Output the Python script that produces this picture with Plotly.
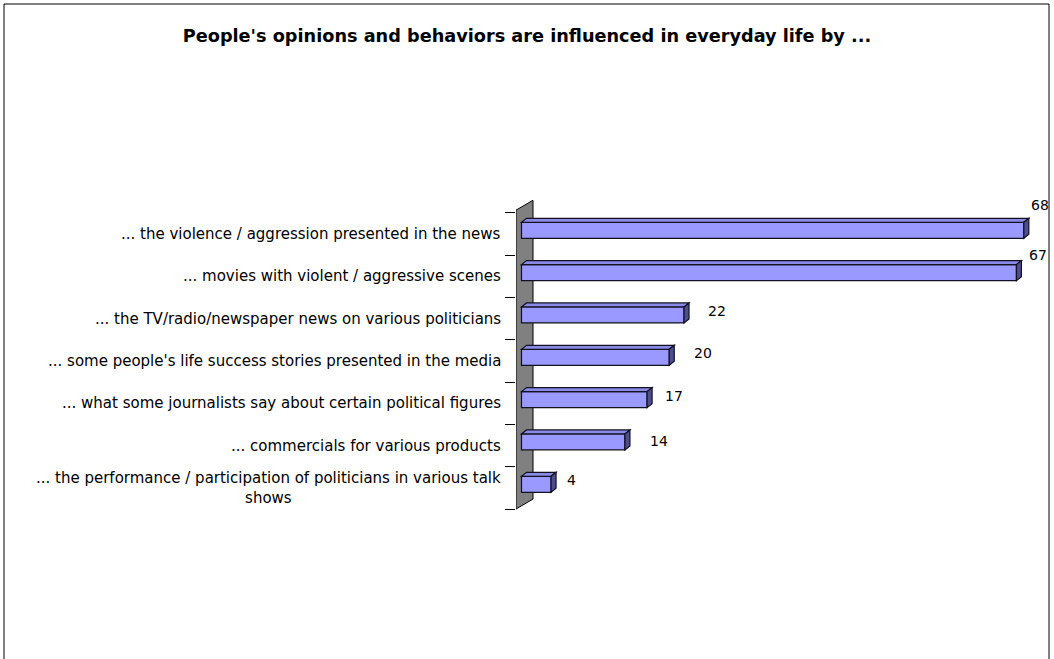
import plotly.graph_objects as go

# ---- data ----
categories = [
    "... the violence / aggression presented in the news",
    "... movies with violent / aggressive scenes",
    "... the TV/radio/newspaper news on various politicians",
    "... some people's life success stories presented in the media",
    "... what some journalists say about certain political figures",
    "... commercials for various products",
    "... the performance / participation of politicians in various talk<br>shows",
]
values = [68, 67, 22, 20, 17, 14, 4]
title_text = "People's opinions and behaviors are influenced in everyday life by ..."

# ---- label placement (styling, pixels) ----
label_dx = [5, 11, 22, 23, 16, 23, 14]
label_dy = [29, 21, 8, 8, 7, 5, 8]

# ---- geometry ----
W, H = 1054, 659
L, R, T, B = 516, 14, 180, 99
PW, PH = W - L - R, H - T - B
X0PIX = 521.5          # pixel where value 0 sits
KX = 7.387             # pixels per unit
BAND = 42.33           # pixels per category
C0 = 233.9             # pixel centre of first category
xr = [(L - X0PIX) / KX, (W - R - X0PIX) / KX]
yr = [(H - B - C0) / BAND, (T - C0) / BAND]   # reversed: bottom, top

bar_w = 16 / BAND
bar_off = -(bar_w / 2) - 3.6 / BAND
ddx, ddy = 5 / KX, 4 / BAND           # bar depth
wdx, wdy = 17 / KX, 10 / BAND         # wall depth

idx = list(range(len(categories)))

fig = go.Figure()
fig.add_trace(go.Bar(
    x=values, y=idx, orientation="h", width=bar_w, offset=bar_off,
    marker=dict(color="#9999FF", line=dict(color="#111122", width=1.2)),
    hoverinfo="skip", showlegend=False,
))

shapes = []
# wall (left side)
x_w0 = xr[0]
yw_top, yw_bot = -0.56, 6.5
shapes.append(dict(
    type="path", xref="x", yref="y", layer="below",
    path=f"M {x_w0},{yw_bot} L {x_w0},{yw_top} L {x_w0 + wdx},{yw_top - wdy} L {x_w0 + wdx},{yw_bot - wdy} Z",
    fillcolor="#808080", line=dict(color="black", width=1),
))
# 3D faces of bars
for i, v in zip(idx, values):
    yt = i + bar_off
    yb = yt + bar_w
    shapes.append(dict(
        type="path", xref="x", yref="y",
        path=f"M 0,{yt} L {v},{yt} L {v + ddx},{yt - ddy} L {ddx},{yt - ddy} Z",
        fillcolor="#8A8AE6", line=dict(color="#111122", width=1.2),
    ))
    shapes.append(dict(
        type="path", xref="x", yref="y",
        path=f"M {v},{yt} L {v + ddx},{yt - ddy} L {v + ddx},{yb - ddy} L {v},{yb} Z",
        fillcolor="#4D4D8F", line=dict(color="#111122", width=1.2),
    ))

# outer frame
def px(X):
    return (X - L) / PW

def py(Y):
    return 1 - (Y - T) / PH

shapes.append(dict(type="path", xref="paper", yref="paper",
                   path=f"M {px(4)},{py(700)} L {px(4)},{py(4)} L {px(1049)},{py(4)} L {px(1049)},{py(700)}",
                   line=dict(color="black", width=1)))

annotations = []
for i, c in zip(idx, categories):
    annotations.append(dict(
        x=0, xref="paper", y=i, yref="y", text=c, showarrow=False,
        xanchor="right", yanchor="middle", align="center", xshift=-13,
        font=dict(family="DejaVu Sans", size=15, color="black"),
    ))
for i, v, dx, dy in zip(idx, values, label_dx, label_dy):
    annotations.append(dict(
        x=v, xref="x", y=i, yref="y", text=str(v), showarrow=False,
        xanchor="left", yanchor="middle", xshift=dx, yshift=dy,
        font=dict(family="DejaVu Sans", size=14, color="black"),
    ))

fig.update_layout(
    width=W, height=H,
    margin=dict(l=L, r=R, t=T, b=B),
    paper_bgcolor="white", plot_bgcolor="white",
    title=dict(text=f"<b>{title_text}</b>", x=0.5, xanchor="center",
               y=1 - 36 / H, yanchor="middle", yref="container",
               font=dict(family="DejaVu Sans", size=17.7, color="black")),
    xaxis=dict(range=xr, visible=False, fixedrange=True),
    yaxis=dict(range=yr, tickmode="array", tickvals=[k - 0.5 for k in range(len(categories) + 1)],
               ticks="outside", ticklen=10, tickcolor="black", tickwidth=1,
               showticklabels=False, showgrid=False, zeroline=False, showline=False,
               fixedrange=True),
    shapes=shapes, annotations=annotations, bargap=0,
)

fig.write_html("out.html", config={"displayModeBar": False, "staticPlot": True},
               post_script="document.body.style.margin='0';document.body.style.overflow='hidden';")
